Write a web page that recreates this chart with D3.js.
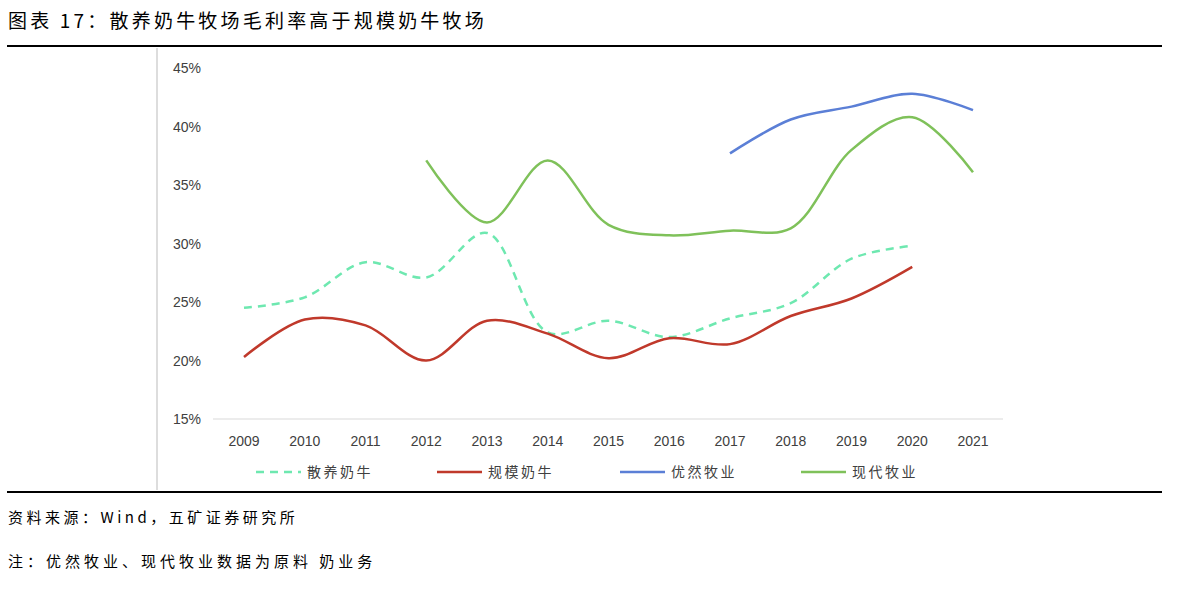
<!DOCTYPE html>
<html><head><meta charset="utf-8">
<script src="https://cdn.jsdelivr.net/npm/d3@7"></script>
<style>body{margin:0;background:#fff;font-family:"Noto Sans CJK SC","Noto Sans",sans-serif}</style>
</head><body><div id="chart"></div>
<script>
var years = [2009,2010,2011,2012,2013,2014,2015,2016,2017,2018,2019,2020,2021]
var yTicks = [15,20,25,30,35,40,45]
var sanyang = [24.5,25.4,28.4,27.1,30.9,22.4,23.4,22.0,23.6,24.9,28.7,29.8,null]
var guimo = [20.3,23.5,23.0,20.0,23.4,22.3,20.2,21.9,21.4,23.8,25.3,28.0,null]
var youran = [null,null,null,null,null,null,null,null,37.7,40.6,41.7,42.8,41.4]
var xiandai = [null,null,null,37.1,31.8,37.1,31.6,30.7,31.1,31.3,38.0,40.8,36.1]

var series = [
  {name:'散养奶牛', values:sanyang, color:'#6ee8b0', dash:'8,6'},
  {name:'规模奶牛', values:guimo, color:'#c0392b', dash:null},
  {name:'优然牧业', values:youran, color:'#5b7fd6', dash:null},
  {name:'现代牧业', values:xiandai, color:'#7fc15a', dash:null}
]
var legendX = [256,437,620,801]

var svg = d3.select('#chart').append('svg').attr('width',1200).attr('height',590)

svg.append('text').attr('x',8).attr('y',28).attr('font-size',19).attr('letter-spacing',3.2).attr('fill','#000')
  .text('图表 17：散养奶牛牧场毛利率高于规模奶牛牧场')
svg.append('line').attr('x1',7).attr('x2',1162).attr('y1',46).attr('y2',46).attr('stroke','#000').attr('stroke-width',2)
svg.append('line').attr('x1',157).attr('x2',157).attr('y1',48).attr('y2',490).attr('stroke','#bbb')
svg.append('line').attr('x1',7).attr('x2',1162).attr('y1',492).attr('y2',492).attr('stroke','#000').attr('stroke-width',2)
svg.append('text').attr('x',8).attr('y',523).attr('font-size',15).attr('letter-spacing',3.5).text('资料来源：Wind，五矿证券研究所')
svg.append('text').attr('x',8).attr('y',567).attr('font-size',15).attr('letter-spacing',4).text('注：优然牧业、现代牧业数据为原料 奶业务')

var x = d3.scalePoint().domain(years).range([244,973])
var y = d3.scaleLinear().domain([15,45]).range([419,68])

svg.append('line').attr('x1',213).attr('x2',1003).attr('y1',y(15)).attr('y2',y(15)).attr('stroke','#d9d9d9')

svg.selectAll('.yt').data(yTicks).enter().append('text')
  .attr('x',201).attr('y',function(d){return y(d)+5}).attr('text-anchor','end')
  .attr('font-size',14).attr('fill','#404040').attr('font-family','Liberation Sans, Arial')
  .text(function(d){return d+'%'})
svg.selectAll('.xt').data(years).enter().append('text')
  .attr('x',function(d){return x(d)}).attr('y',446).attr('text-anchor','middle')
  .attr('font-size',14).attr('fill','#404040').attr('font-family','Liberation Sans, Arial')
  .text(function(d){return d})

var line = d3.line()
  .defined(function(d){return d[1]!=null})
  .x(function(d){return x(d[0])})
  .y(function(d){return y(d[1])})
  .curve(d3.curveCatmullRom.alpha(0.5))

series.forEach(function(s,i){
  var pts = years.map(function(yr,j){return [yr,s.values[j]]}).filter(function(d){return d[1]!=null})
  svg.append('path').datum(pts).attr('d',line).attr('fill','none')
    .attr('stroke',s.color).attr('stroke-width',2.5)
    .attr('stroke-dasharray',s.dash)
  svg.append('line').attr('x1',legendX[i]).attr('x2',legendX[i]+45).attr('y1',472).attr('y2',472)
    .attr('stroke',s.color).attr('stroke-width',2.5).attr('stroke-dasharray',s.dash)
  svg.append('text').attr('x',legendX[i]+51).attr('y',477).attr('font-size',14).attr('letter-spacing',2.5)
    .attr('fill','#404040').text(s.name)
})
</script></body></html>
